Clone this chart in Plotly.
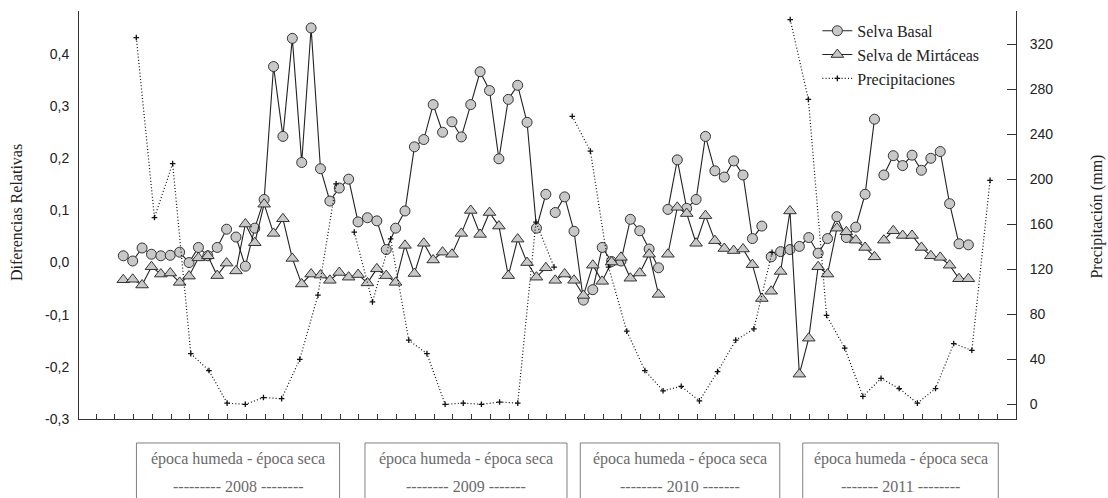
import plotly.graph_objects as go

# Semi-monthly relative differences, 2008-2011 (91 sampling dates)
selva_basal = [
    0.013, 0.003, 0.028, 0.016, 0.013, 0.014, 0.020, 0.000, 0.029, 0.013,
    0.029, 0.064, 0.049, -0.007, 0.066, 0.121, 0.376, 0.242, 0.430, 0.192,
    0.450, 0.180, 0.118, 0.143, 0.160, 0.078, 0.086, 0.080, 0.025, 0.066,
    0.099, 0.222, 0.236, 0.303, 0.250, 0.270, 0.241, 0.303, 0.366, 0.330,
    0.199, 0.313, 0.340, 0.269, 0.066, 0.131, 0.096, 0.126, 0.060, -0.072,
    -0.052, 0.029, 0.002, 0.003, 0.083, 0.061, 0.026, -0.010, 0.102, 0.197,
    0.104, 0.121, 0.242, 0.176, 0.164, 0.195, 0.168, 0.046, 0.070, 0.011,
    0.021, 0.025, 0.031, 0.048, 0.018, 0.046, 0.088, 0.048, 0.068, 0.131,
    0.275, 0.168, 0.205, 0.186, 0.206, 0.177, 0.200, 0.213, 0.113, 0.036,
    0.034,
]
selva_mirtaceas = [
    -0.033, -0.032, -0.043, -0.008, -0.022, -0.020, -0.038, -0.026, 0.009, 0.013,
    -0.025, -0.001, -0.016, 0.074, 0.038, 0.112, 0.056, 0.084, 0.008, -0.041,
    -0.022, -0.024, -0.034, -0.019, -0.028, -0.023, -0.039, -0.012, -0.025, -0.038,
    0.033, -0.021, 0.037, 0.005, 0.020, 0.016, 0.056, 0.100, 0.054, 0.096,
    0.070, -0.025, 0.045, 0.000, -0.028, -0.010, -0.034, -0.022, -0.034, -0.063,
    -0.005, -0.036, 0.001, 0.010, -0.030, -0.020, 0.016, -0.061, 0.016, 0.106,
    0.094, 0.037, 0.090, 0.042, 0.027, 0.023, 0.026, -0.004, -0.069, -0.055,
    -0.017, 0.099, -0.214, -0.145, -0.008, -0.022, 0.066, 0.059, 0.043, 0.029,
    0.011, 0.043, 0.061, 0.052, 0.052, 0.029, 0.013, 0.010, -0.005, -0.031,
    -0.031,
]
# First sample of each sampling block (lines are broken between blocks)
block_starts = [0, 12, 35, 46, 58, 69, 81]

# Monthly precipitation (mm), one list per year
years = ["2008", "2009", "2010", "2011"]
precip_2008 = [326, 166, 214, 45, 30, 1, 0, 6, 5, 40, 97, 196]
precip_2009 = [153, 91, 147, 57, 45, 0, 1, 0, 2, 1, 162, 122]
precip_2010 = [256, 225, 122, 65, 30, 12, 16, 3, 29, 57, 67, 135]
precip_2011 = [342, 271, 79, 50, 7, 23, 14, 1, 14, 54, 48, 199]
precip_by_year = [precip_2008, precip_2009, precip_2010, precip_2011]

# Axis tick labels
left_ticks = [-0.3, -0.2, -0.1, 0.0, 0.1, 0.2, 0.3, 0.4]
left_tick_labels = ["-0,3", "-0,2", "-0,1", "0,0", "0,1", "0,2", "0,3", "0,4"]
right_ticks = [0, 40, 80, 120, 160, 200, 240, 280, 320]
right_tick_labels = ["0", "40", "80", "120", "160", "200", "240", "280", "320"]

season_label = "época humeda - época seca"
year_labels = ["--------- 2008 --------", "-------- 2009 -------",
               "-------- 2010 -------", "------- 2011 --------"]

SERIF = "Liberation Serif, Times New Roman, serif"
SANS = "Liberation Sans, Arial, sans-serif"
INK = "#222222"
FILL = "#c8c8c8"

fig = go.Figure()


def add_blocks(values, name, symbol, size):
    ends = block_starts[1:] + [len(values)]
    for k, (s, e) in enumerate(zip(block_starts, ends)):
        fig.add_trace(go.Scatter(
            x=list(range(s, e)), y=values[s:e],
            mode="lines+markers", name=name, legendgroup=name,
            showlegend=(k == 0),
            line=dict(color=INK, width=1.1),
            marker=dict(symbol=symbol, size=size, color=FILL,
                        line=dict(color="#333333", width=1)),
            xaxis="x", yaxis="y",
        ))


add_blocks(selva_basal, "Selva Basal", "circle", 10)
add_blocks(selva_mirtaceas, "Selva de Mirtáceas", "triangle-up", 11)

for k, vals in enumerate(precip_by_year):
    fig.add_trace(go.Scatter(
        x=[k * 12 + m for m in range(len(vals))], y=vals,
        mode="lines+markers", name="Precipitaciones",
        legendgroup="Precipitaciones", showlegend=(k == 0),
        line=dict(color="#111111", width=1.2, dash="1px,2.2px"),
        marker=dict(symbol="cross-thin", size=4,
                    line=dict(color="#111111", width=1.3)),
        xaxis="x2", yaxis="y2",
    ))

# Season boxes under the time axis
box_spans = [(0.0613, 0.2781), (0.3052, 0.5208), (0.5350, 0.7479), (0.7724, 0.9811)]
shapes = []
annotations = []
for (x0, x1), ylab in zip(box_spans, year_labels):
    shapes.append(dict(type="rect", xref="paper", yref="paper",
                       x0=x0, x1=x1, y0=-0.0588, y1=-0.30,
                       line=dict(color="#808080", width=1)))
    xc = (x0 + x1) / 2
    annotations.append(dict(xref="paper", yref="paper", x=xc, y=-0.098,
                            text=season_label, showarrow=False,
                            font=dict(family=SERIF, size=16, color="#6a6a6a"),
                            xanchor="center", yanchor="middle"))
    annotations.append(dict(xref="paper", yref="paper", x=xc, y=-0.1654,
                            text=ylab, showarrow=False,
                            font=dict(family=SERIF, size=16, color="#6a6a6a"),
                            xanchor="center", yanchor="middle"))

annotations.append(dict(xref="paper", yref="paper", x=-0.066, y=0.505,
                        text="Diferencias Relativas", textangle=-90,
                        showarrow=False, xanchor="center", yanchor="middle",
                        font=dict(family=SERIF, size=16, color=INK)))
annotations.append(dict(xref="paper", yref="paper", x=1.087, y=0.495,
                        text="Precipitación (mm)", textangle=-90,
                        showarrow=False, xanchor="center", yanchor="middle",
                        font=dict(family=SERIF, size=16, color=INK)))

fig.update_layout(
    width=1108, height=498, autosize=False,
    margin=dict(l=79, r=92, t=11, b=79),
    paper_bgcolor="white", plot_bgcolor="white",
    showlegend=True,
    legend=dict(x=0.788, y=0.993, xanchor="left", yanchor="top",
                bgcolor="rgba(0,0,0,0)", tracegroupgap=0,
                font=dict(family=SERIF, size=16, color=INK)),
    xaxis=dict(range=[-4.718, 95.07], showline=True, linecolor="#333333",
               linewidth=1, ticks="inside", ticklen=5, tickcolor="#333333",
               tickmode="linear", tick0=-2.9, dtick=2,
               showticklabels=False, showgrid=False, zeroline=False),
    xaxis2=dict(range=[-3.155, 48.43], overlaying="x", visible=False),
    yaxis=dict(range=[-0.3, 0.4825], showline=True, linecolor="#333333",
               linewidth=1, ticks="",
               tickvals=left_ticks, ticktext=left_tick_labels,
               tickfont=dict(family=SANS, size=14, color=INK),
               ticklabelstandoff=6,
               showgrid=False, zeroline=False),
    yaxis2=dict(range=[-13.07, 349.6], overlaying="y", side="right",
                showline=True, linecolor="#333333", linewidth=1,
                ticks="inside", ticklen=9, tickcolor="#333333",
                tickvals=right_ticks, ticktext=right_tick_labels,
                tickfont=dict(family=SANS, size=14, color=INK),
                ticklabelstandoff=10,
                showgrid=False, zeroline=False),
    shapes=shapes,
    annotations=annotations,
)

fig.write_html("out.html")
